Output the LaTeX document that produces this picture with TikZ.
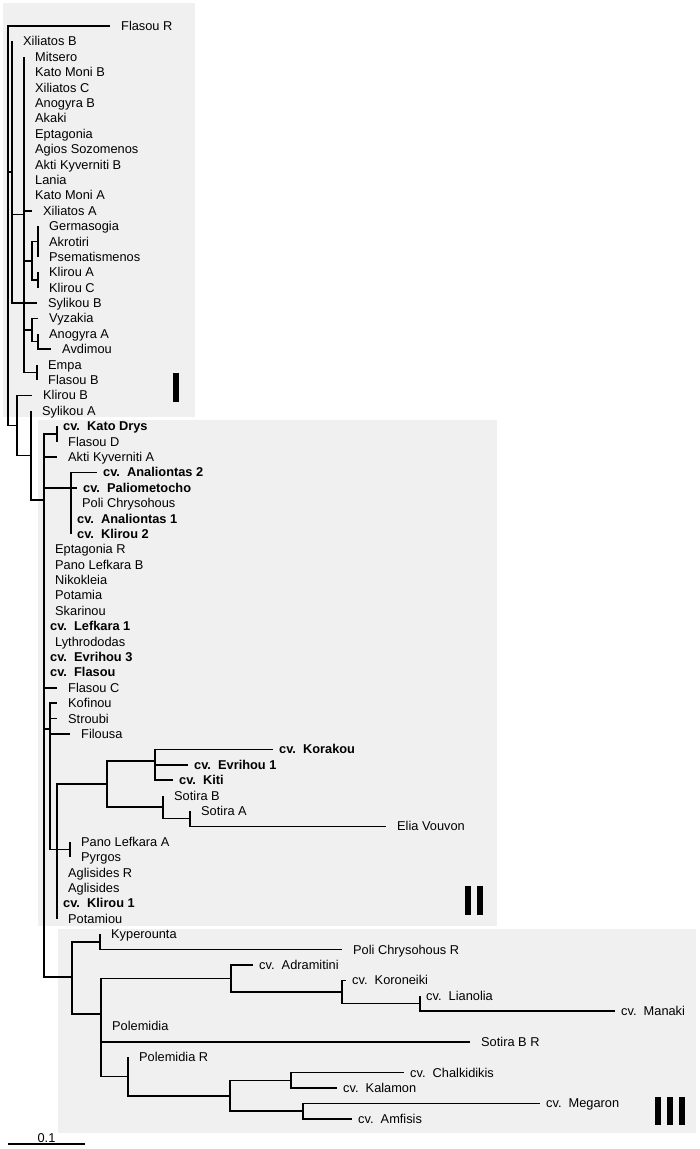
\documentclass[tikz,border=0pt]{standalone}
\usepackage{fontspec}
\setmainfont{Liberation Sans}
\newcommand\labfont{\fontsize{12.8}{15}\selectfont}
\definecolor{boxgray}{HTML}{F0F0F0}
\begin{document}
\begin{tikzpicture}[x=1pt,y=-1pt,
  br/.style={line width=1.6pt,line join=miter},
  labbase/.style={inner sep=0pt,anchor=west,text height=9.1pt,text depth=0pt,font=\labfont},
  lab/.style={labbase,xshift=11pt},
  cvl/.style={labbase,xshift=6pt},
  cvb/.style={cvl,font=\labfont\bfseries},
  grp/.style={fill=black}]
\useasboundingbox (0,0) rectangle (700,1149);
\fill[white] (0,0) rectangle (700,1149);
% group boxes
\fill[boxgray] (3,3) rectangle (195,417);
\fill[boxgray] (38,420) rectangle (497,926);
\fill[boxgray] (58,929) rectangle (696,1133);
% group marks
\fill[grp] (173,373) rectangle (179,402);
\fill[grp] (464.5,886) rectangle (470.5,915);
\fill[grp] (476.5,886) rectangle (482.5,915);
\fill[grp] (655,1097) rectangle (661,1125);
\fill[grp] (667,1097) rectangle (673,1125);
\fill[grp] (679,1097) rectangle (685,1125);

% ---------- coordinates: group I ----------
\coordinate (root) at (8,172);
\coordinate (eFR) at (110,26);
\coordinate (n12) at (12,172);
\coordinate (eXB) at (12,41.4);
\coordinate (n24) at (24,214.6);
\coordinate (eMit) at (24,56.8);
\coordinate (eKMB) at (24,72.2);
\coordinate (eXC) at (24,87.6);
\coordinate (eAnB) at (24,103);
\coordinate (eAka) at (24,118.3);
\coordinate (eEpt) at (24,133.7);
\coordinate (eAgS) at (24,149.1);
\coordinate (eAKB) at (24,164.5);
\coordinate (eLan) at (24,179.9);
\coordinate (eKMA) at (24,195.3);
\coordinate (eXA) at (32,210.7);
\coordinate (g0) at (32,260.7);
\coordinate (g1) at (38,241.5);
\coordinate (eGer) at (38,226.1);
\coordinate (eAkr) at (38,241.5);
\coordinate (ePse) at (38,256.9);
\coordinate (g2) at (38,279.9);
\coordinate (eKlA) at (38,272.2);
\coordinate (eKlC) at (38,287.6);
\coordinate (eSyB) at (37,303);
\coordinate (v0) at (32,330);
\coordinate (eVyz) at (38,318.4);
\coordinate (v2) at (38,341.5);
\coordinate (eAnA) at (38,333.8);
\coordinate (eAvd) at (51,349.2);
\coordinate (ef) at (37,372.3);
\coordinate (eEmp) at (37,364.6);
\coordinate (eFlB) at (37,380);
\coordinate (n17) at (17,425.4);
\coordinate (eKlB) at (32,395.4);
\coordinate (n31) at (31,455.4);
\coordinate (eSyA) at (31,410.8);
\coordinate (n44) at (44,500);
% ---------- group II ----------
\coordinate (kd) at (57,433.8);
\coordinate (eKD) at (57,426.1);
\coordinate (eFlD) at (57,441.5);
\coordinate (eAKA) at (57,456.9);
\coordinate (an) at (71,487.7);
\coordinate (eAn2) at (97,472.3);
\coordinate (ePal) at (77,487.7);
\coordinate (ePoC) at (71,503.1);
\coordinate (eAn1) at (71,518.5);
\coordinate (eKl2) at (71,533.9);
\coordinate (eEpR) at (44,549.3);
\coordinate (ePLB) at (44,564.7);
\coordinate (eNik) at (44,580.1);
\coordinate (ePot) at (44,595.4);
\coordinate (eSka) at (44,610.8);
\coordinate (eLe1) at (44,626.2);
\coordinate (eLyt) at (44,641.6);
\coordinate (eEv3) at (44,657);
\coordinate (eFla) at (44,672.4);
\coordinate (eFlC) at (57,687.8);
\coordinate (p) at (50,729);
\coordinate (eKof) at (57,703.2);
\coordinate (eStr) at (57,718.6);
\coordinate (eFil) at (70,734);
\coordinate (q) at (57,849.4);
\coordinate (k) at (107,784);
\coordinate (k1) at (155,761);
\coordinate (eKor) at (273,749.4);
\coordinate (eEv1) at (188,764.8);
\coordinate (eKit) at (173,780.2);
\coordinate (s1) at (163,807);
\coordinate (eSoB) at (163,795.5);
\coordinate (s2) at (190,818.6);
\coordinate (eSoA) at (190,810.9);
\coordinate (eEV) at (386,826.3);
\coordinate (pl) at (70,849.4);
\coordinate (ePLA) at (70,841.7);
\coordinate (ePyr) at (70,857.1);
\coordinate (eAgR) at (57,872.5);
\coordinate (eAgl) at (57,887.9);
\coordinate (eKl1) at (57,903.3);
\coordinate (ePtm) at (57,918.7);
% ---------- group III ----------
\coordinate (g3) at (72,977);
\coordinate (ky) at (100,941.8);
\coordinate (eKyp) at (100,934.1);
\coordinate (ePCR) at (342,949.5);
\coordinate (h) at (101,1014);
\coordinate (a1) at (231,978.4);
\coordinate (eAdr) at (253,964.9);
\coordinate (a2) at (342,991.8);
\coordinate (eKoro) at (346,980.3);
\coordinate (a3) at (420,1003.3);
\coordinate (eLia) at (420,995.6);
\coordinate (eMan) at (615,1011);
\coordinate (ePol) at (101,1026.4);
\coordinate (eSBR) at (470,1041.8);
\coordinate (r1) at (128,1076.5);
\coordinate (ePoR) at (128,1057.2);
\coordinate (r2) at (230,1095.7);
\coordinate (r3) at (291,1080.3);
\coordinate (eCha) at (404,1072.6);
\coordinate (eKal) at (337,1088);
\coordinate (r4) at (303,1111.1);
\coordinate (eMeg) at (540,1103.4);
\coordinate (eAmf) at (352,1118.8);

% ---------- branches ----------
\foreach \c in {eFR,n12,n17} \draw[br] (root) |- (\c);
\foreach \c in {eXB,n24,eSyB} \draw[br] (n12) |- (\c);
\foreach \c in {eMit,eKMB,eXC,eAnB,eAka,eEpt,eAgS,eAKB,eLan,eKMA,eXA,g0,v0,ef} \draw[br] (n24) |- (\c);
\foreach \c in {g1,g2} \draw[br] (g0) |- (\c);
\foreach \c in {eGer,eAkr,ePse} \draw[br] (g1) |- (\c);
\foreach \c in {eKlA,eKlC} \draw[br] (g2) |- (\c);
\foreach \c in {eVyz,v2} \draw[br] (v0) |- (\c);
\foreach \c in {eAnA,eAvd} \draw[br] (v2) |- (\c);
\foreach \c in {eEmp,eFlB} \draw[br] (ef) |- (\c);
\foreach \c in {eKlB,n31} \draw[br] (n17) |- (\c);
\foreach \c in {eSyA,n44} \draw[br] (n31) |- (\c);
\foreach \c in {kd,eAKA,an,eEpR,ePLB,eNik,ePot,eSka,eLe1,eLyt,eEv3,eFla,eFlC,p,g3} \draw[br] (n44) |- (\c);
\foreach \c in {eKD,eFlD} \draw[br] (kd) |- (\c);
\foreach \c in {eAn2,ePal,ePoC,eAn1,eKl2} \draw[br] (an) |- (\c);
\foreach \c in {eKof,eStr,eFil,q} \draw[br] (p) |- (\c);
\foreach \c in {k,pl,eAgR,eAgl,eKl1,ePtm} \draw[br] (q) |- (\c);
\foreach \c in {k1,s1} \draw[br] (k) |- (\c);
\foreach \c in {eKor,eEv1,eKit} \draw[br] (k1) |- (\c);
\foreach \c in {eSoB,s2} \draw[br] (s1) |- (\c);
\foreach \c in {eSoA,eEV} \draw[br] (s2) |- (\c);
\foreach \c in {ePLA,ePyr} \draw[br] (pl) |- (\c);
\foreach \c in {ky,h} \draw[br] (g3) |- (\c);
\foreach \c in {eKyp,ePCR} \draw[br] (ky) |- (\c);
\foreach \c in {a1,ePol,eSBR,r1} \draw[br] (h) |- (\c);
\foreach \c in {eAdr,a2} \draw[br] (a1) |- (\c);
\foreach \c in {eKoro,a3} \draw[br] (a2) |- (\c);
\foreach \c in {eLia,eMan} \draw[br] (a3) |- (\c);
\foreach \c in {ePoR,r2} \draw[br] (r1) |- (\c);
\foreach \c in {r3,r4} \draw[br] (r2) |- (\c);
\foreach \c in {eCha,eKal} \draw[br] (r3) |- (\c);
\foreach \c in {eMeg,eAmf} \draw[br] (r4) |- (\c);

% ---------- labels: group I ----------
\node[lab] (tFR) at (eFR) {Flasou R};
\node[lab] (tXB) at (eXB) {Xiliatos B};
\node[lab] (tMit) at (eMit) {Mitsero};
\node[lab] (tKMB) at (eKMB) {Kato Moni B};
\node[lab] (tXC) at (eXC) {Xiliatos C};
\node[lab] (tAnB) at (eAnB) {Anogyra B};
\node[lab] (tAka) at (eAka) {Akaki};
\node[lab] (tEpt) at (eEpt) {Eptagonia};
\node[lab] (tAgS) at (eAgS) {Agios Sozomenos};
\node[lab] (tAKB) at (eAKB) {Akti Kyverniti B};
\node[lab] (tLan) at (eLan) {Lania};
\node[lab] (tKMA) at (eKMA) {Kato Moni A};
\node[lab] (tXA) at (eXA) {Xiliatos A};
\node[lab] (tGer) at (eGer) {Germasogia};
\node[lab] (tAkr) at (eAkr) {Akrotiri};
\node[lab] (tPse) at (ePse) {Psematismenos};
\node[lab] (tKlA) at (eKlA) {Klirou A};
\node[lab] (tKlC) at (eKlC) {Klirou C};
\node[lab] (tSyB) at (eSyB) {Sylikou B};
\node[lab] (tVyz) at (eVyz) {Vyzakia};
\node[lab] (tAnA) at (eAnA) {Anogyra A};
\node[lab] (tAvd) at (eAvd) {Avdimou};
\node[lab] (tEmp) at (eEmp) {Empa};
\node[lab] (tFlB) at (eFlB) {Flasou B};
\node[lab] (tKlB) at (eKlB) {Klirou B};
\node[lab] (tSyA) at (eSyA) {Sylikou A};
% ---------- labels: group II ----------
\node[cvb] (tKD) at (eKD) {cv.\ \ Kato Drys};
\node[lab] (tFlD) at (eFlD) {Flasou D};
\node[lab] (tAKA) at (eAKA) {Akti Kyverniti A};
\node[cvb] (tAn2) at (eAn2) {cv.\ \ Analiontas 2};
\node[cvb] (tPal) at (ePal) {cv.\ \ Paliometocho};
\node[lab] (tPoC) at (ePoC) {Poli Chrysohous};
\node[cvb] (tAn1) at (eAn1) {cv.\ \ Analiontas 1};
\node[cvb] (tKl2) at (eKl2) {cv.\ \ Klirou 2};
\node[lab] (tEpR) at (eEpR) {Eptagonia R};
\node[lab] (tPLB) at (ePLB) {Pano Lefkara B};
\node[lab] (tNik) at (eNik) {Nikokleia};
\node[lab] (tPot) at (ePot) {Potamia};
\node[lab] (tSka) at (eSka) {Skarinou};
\node[cvb] (tLe1) at (eLe1) {cv.\ \ Lefkara 1};
\node[lab] (tLyt) at (eLyt) {Lythrododas};
\node[cvb] (tEv3) at (eEv3) {cv.\ \ Evrihou 3};
\node[cvb] (tFla) at (eFla) {cv.\ \ Flasou};
\node[lab] (tFlC) at (eFlC) {Flasou C};
\node[lab] (tKof) at (eKof) {Kofinou};
\node[lab] (tStr) at (eStr) {Stroubi};
\node[lab] (tFil) at (eFil) {Filousa};
\node[cvb] (tKor) at (eKor) {cv.\ \ Korakou};
\node[cvb] (tEv1) at (eEv1) {cv.\ \ Evrihou 1};
\node[cvb] (tKit) at (eKit) {cv.\ \ Kiti};
\node[lab] (tSoB) at (eSoB) {Sotira B};
\node[lab] (tSoA) at (eSoA) {Sotira A};
\node[lab] (tEV) at (eEV) {Elia Vouvon};
\node[lab] (tPLA) at (ePLA) {Pano Lefkara A};
\node[lab] (tPyr) at (ePyr) {Pyrgos};
\node[lab] (tAgR) at (eAgR) {Aglisides R};
\node[lab] (tAgl) at (eAgl) {Aglisides};
\node[cvb] (tKl1) at (eKl1) {cv.\ \ Klirou 1};
\node[lab] (tPtm) at (ePtm) {Potamiou};
% ---------- labels: group III ----------
\node[lab] (tKyp) at (eKyp) {Kyperounta};
\node[lab] (tPCR) at (ePCR) {Poli Chrysohous R};
\node[cvl] (tAdr) at (eAdr) {cv.\ \ Adramitini};
\node[cvl] (tKoro) at (eKoro) {cv.\ \ Koroneiki};
\node[cvl] (tLia) at (eLia) {cv.\ \ Lianolia};
\node[cvl] (tMan) at (eMan) {cv.\ \ Manaki};
\node[lab] (tPol) at (ePol) {Polemidia};
\node[lab] (tSBR) at (eSBR) {Sotira B R};
\node[lab] (tPoR) at (ePoR) {Polemidia R};
\node[cvl] (tCha) at (eCha) {cv.\ \ Chalkidikis};
\node[cvl] (tKal) at (eKal) {cv.\ \ Kalamon};
\node[cvl] (tMeg) at (eMeg) {cv.\ \ Megaron};
\node[cvl] (tAmf) at (eAmf) {cv.\ \ Amfisis};

% ---------- scale bar ----------
\coordinate (sbA) at (8,1144);
\coordinate (sbB) at (85,1144);
\draw[br] (sbA) -- (sbB);
\node[labbase,anchor=center] (sbt) at (46.5,1137.5) {0.1};
\end{tikzpicture}
\end{document}
